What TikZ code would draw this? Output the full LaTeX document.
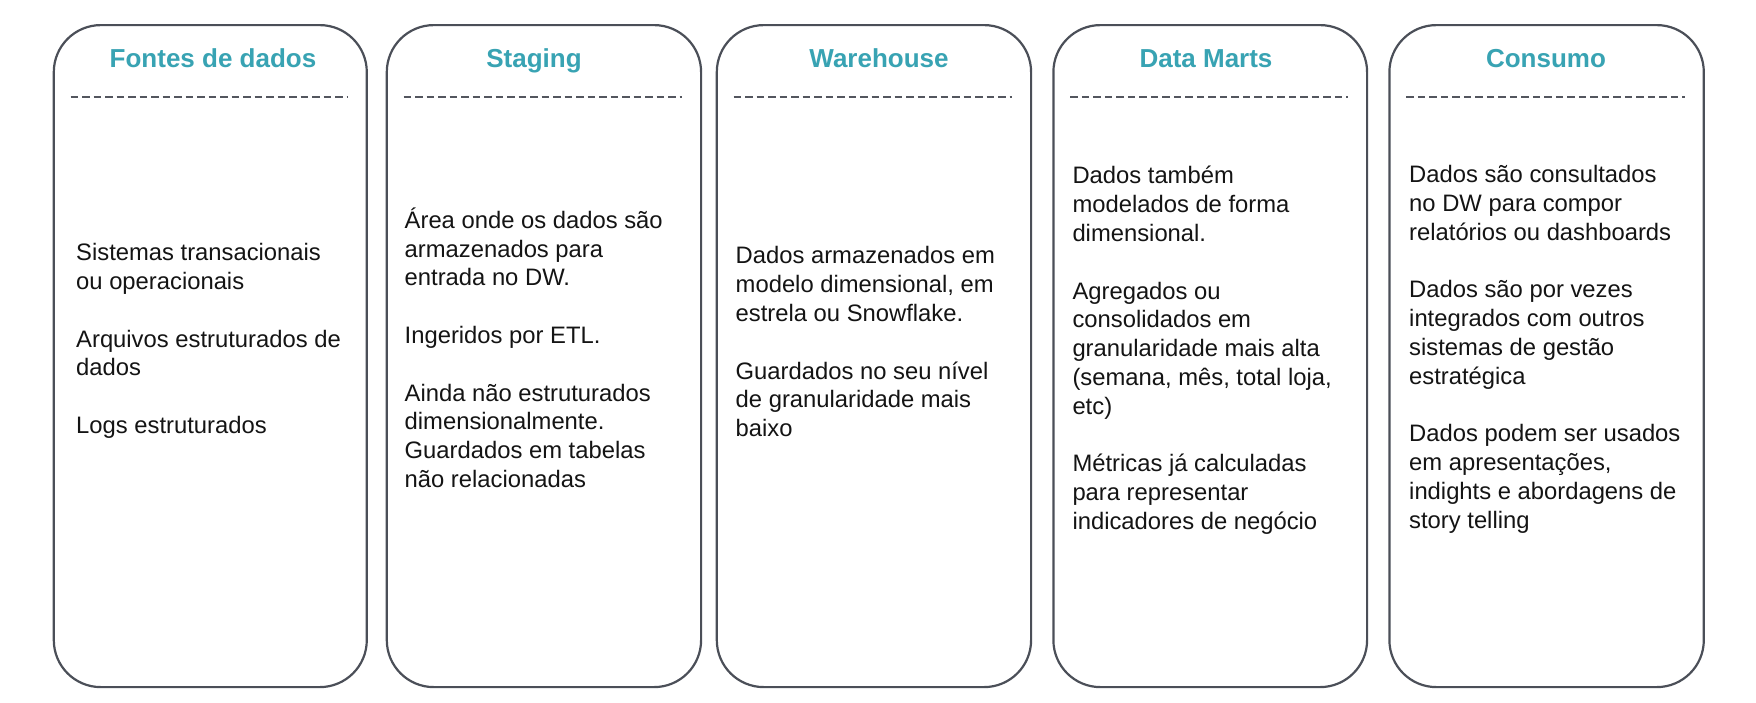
\documentclass[tikz,border=0pt]{standalone}
\usepackage{fontspec}
\setmainfont{Liberation Sans}
\definecolor{cardline}{HTML}{4B4F58}
\definecolor{dashline}{HTML}{53565E}
\definecolor{titleteal}{HTML}{38A3B3}
\definecolor{bodytext}{HTML}{141414}
\tikzset{
  card/.style={draw=cardline, line width=2.2pt, rounded corners=47pt, fill=white,
    anchor=north west, inner sep=0pt, minimum height=662pt},
  cardtitle/.style={anchor=base, inner sep=0pt, text=titleteal,
    font=\bfseries\fontsize{26}{30}\selectfont},
  % anchored on the baseline of the last line
  cardtext/.style={anchor=base west, inner sep=0pt, align=left, text=bodytext,
    font=\fontsize{23.8}{28.8}\selectfont},
  rule/.style={draw=dashline, line width=2pt, dash pattern=on 7.5pt off 4pt}
}
\begin{document}
\begin{tikzpicture}[x=1pt, y=-1pt]
\useasboundingbox (0,0) rectangle (1756,702);

% the five stage cards
\node[card, minimum width=313pt] (b1) at (52.7,24) {};
\node[card, minimum width=314.3pt] (b2) at (385.7,24) {};
\node[card, minimum width=314.3pt] (b3) at (715.7,24) {};
\node[card, minimum width=313.7pt] (b4) at (1052.3,24) {};
\node[card, minimum width=314.4pt] (b5) at (1388.3,24) {};

% headings
\node[cardtitle] (t1) at (213,67.3) {Fontes de dados};
\node[cardtitle] (t2) at (534,67.3) {Staging};
\node[cardtitle] (t3) at (879,67.3) {Warehouse};
\node[cardtitle] (t4) at (1206,67.3) {Data Marts};
\node[cardtitle] (t5) at (1546,67.3) {Consumo};

% dashed separators under the headings
\foreach \b in {b1,b2,b3,b4,b5} {
  \draw[rule] ([xshift=18pt,yshift=-73pt]\b.north west) -- ([xshift=-20pt,yshift=-73pt]\b.north east);
}

% card contents
\node[cardtext] (c1) at (76,433.5) {Sistemas transacionais\\ou operacionais\\[28.8pt]Arquivos estruturados de\\dados\\[28.8pt]Logs estruturados};
\node[cardtext] (c2) at (404.5,487.5) {Área onde os dados são\\armazenados para\\entrada no DW.\\[28.8pt]Ingeridos por ETL.\\[28.8pt]Ainda não estruturados\\dimensionalmente.\\Guardados em tabelas\\não relacionadas};
\node[cardtext] (c3) at (735.5,436.6) {Dados armazenados em\\modelo dimensional, em\\estrela ou Snowflake.\\[28.8pt]Guardados no seu nível\\de granularidade mais\\baixo};
\node[cardtext] (c4) at (1072.3,529.5) {Dados também\\modelados de forma\\dimensional.\\[28.8pt]Agregados ou\\consolidados em\\granularidade mais alta\\(semana, mês, total loja,\\etc)\\[28.8pt]Métricas já calculadas\\para representar\\indicadores de negócio};
\node[cardtext] (c5) at (1409,528.2) {Dados são consultados\\no DW para compor\\relatórios ou dashboards\\[28.8pt]Dados são por vezes\\integrados com outros\\sistemas de gestão\\estratégica\\[28.8pt]Dados podem ser usados\\em apresentações,\\indights e abordagens de\\story telling};
\end{tikzpicture}
\end{document}
